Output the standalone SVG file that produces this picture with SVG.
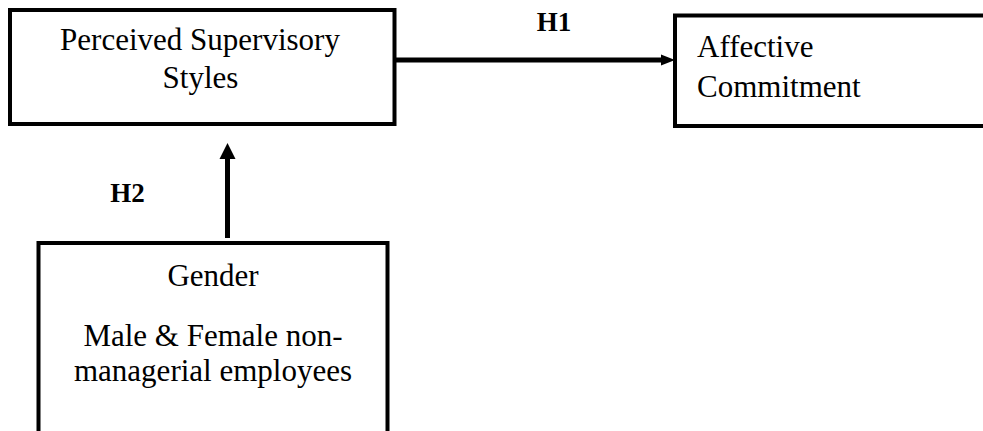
<svg xmlns="http://www.w3.org/2000/svg" width="983" height="431" viewBox="0 0 983 431">
<style>
.box{fill:#fff;stroke:#000;stroke-width:4}
.t{font-family:"Liberation Serif","Times New Roman",serif;font-size:31px;fill:#000}
.h{font-family:"Liberation Serif","Times New Roman",serif;font-size:27px;font-weight:bold;fill:#000}
.c{stroke:#000;stroke-width:5;fill:none}
</style>
<rect width="983" height="431" fill="#fff"/>
<g id="node-supervisory">
<rect class="box" x="10" y="10" width="384.5" height="114"/>
<text class="t" x="200" y="50" text-anchor="middle">Perceived Supervisory</text>
<text class="t" x="200.5" y="88" text-anchor="middle">Styles</text>
</g>
<g id="node-affective">
<rect class="box" x="675" y="15.5" width="320" height="110.5"/>
<text class="t" x="697" y="57">Affective</text>
<text class="t" x="697" y="96.5">Commitment</text>
</g>
<g id="node-gender">
<rect class="box" x="38.5" y="243" width="349" height="200"/>
<text class="t" x="213" y="286" text-anchor="middle">Gender</text>
<text class="t" x="213" y="346" text-anchor="middle">Male &amp; Female non-</text>
<text class="t" x="213" y="381" text-anchor="middle">managerial employees</text>
</g>
<g id="connectors">
<line class="c" x1="396" y1="60" x2="663" y2="60"/>
<polygon points="675,60 661,54.5 661,65.5" fill="#000"/>
<text class="h" x="554" y="31" text-anchor="middle">H1</text>
<line class="c" x1="227.5" y1="238" x2="227.5" y2="157"/>
<polygon points="227.5,143 219.5,159 235.5,159" fill="#000"/>
<text class="h" x="127.5" y="201.5" text-anchor="middle">H2</text>
</g>
</svg>
